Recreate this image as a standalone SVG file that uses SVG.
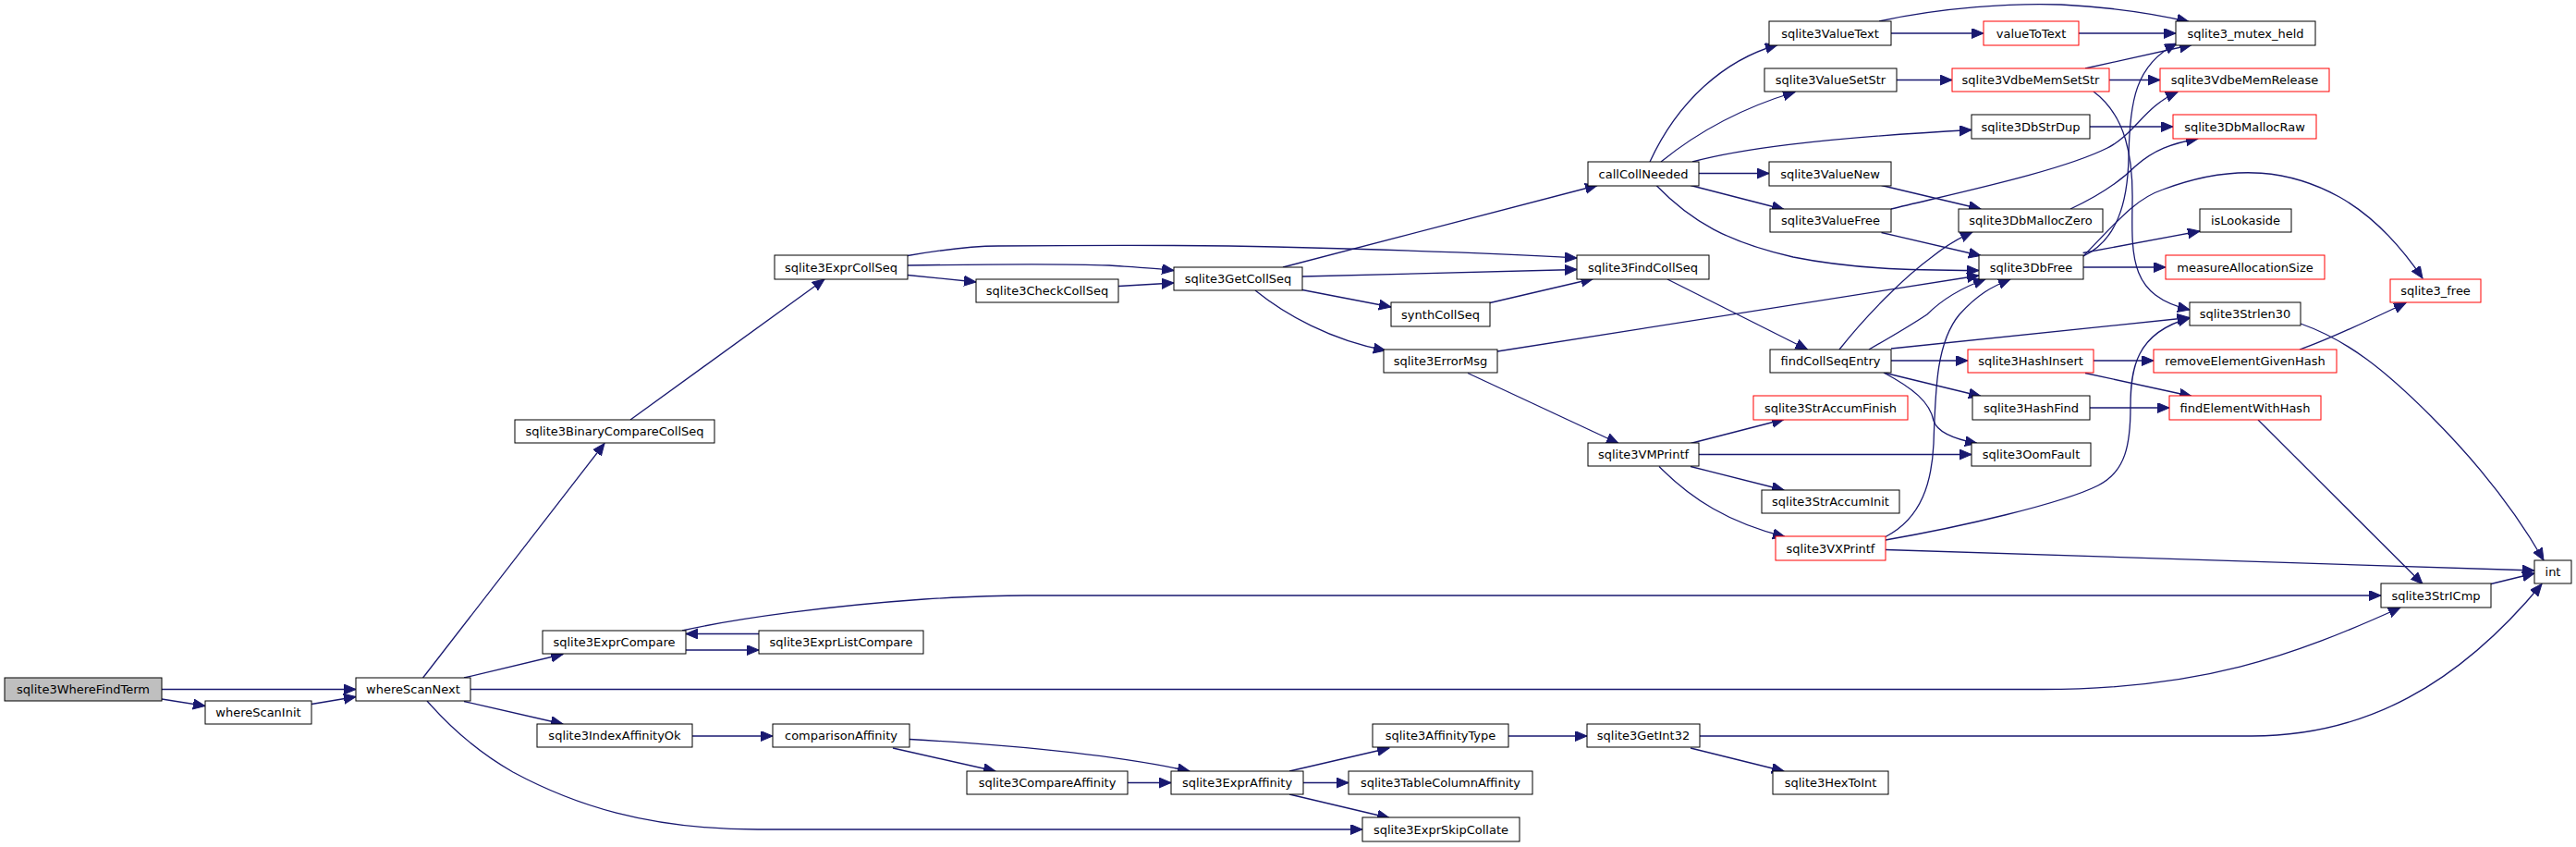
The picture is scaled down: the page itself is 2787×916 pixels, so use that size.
<svg xmlns="http://www.w3.org/2000/svg" width="2787" height="916" viewBox="0 0 2787 916">
<style>
.n rect{fill:#fff;stroke:#000;stroke-width:1}
.n.r rect{stroke:#ff0000}
.n.m rect{fill:#bfbfbf}
.n text{font-family:"DejaVu Sans",sans-serif;font-size:13px;text-anchor:middle;fill:#000}
.e path{fill:none;stroke:#191970;stroke-width:1.3;marker-end:url(#a)}
</style>
<defs>
<marker id="a" markerUnits="userSpaceOnUse" markerWidth="14" markerHeight="12" refX="13" refY="5.5" orient="auto" viewBox="0 0 14 12">
<path d="M0,0 L13,5.5 L0,11 z" fill="#191970" stroke="#191970" stroke-width="1"/>
</marker>
</defs>
<rect width="2787" height="916" fill="#fff"/>
<g id="edges" class="e">
<path d="M175,745.5 L385,745.5"/>
<path d="M175,756 L222,763.5"/>
<path d="M337,761.5 L385,753.5"/>
<path d="M457.6,733 L654,479.5"/>
<path d="M502,733 L609,707.5"/>
<path d="M509,745.5 L2210,745.5 C2380,745.5 2480,710 2597,657"/>
<path d="M502,758.5 L609,783"/>
<path d="M462,758 C490,790 520,815 555,835 C620,870 700,897 820,897 L1474,897"/>
<path d="M682,454 L892,302"/>
<path d="M982,276.5 C1020,270 1050,266 1080,266 C1200,265 1300,265 1380,267 C1500,270 1620,274 1706,279"/>
<path d="M982,287 C1050,286 1150,285 1200,287 C1230,289 1250,290 1270,292.5"/>
<path d="M982,297.5 L1056,305"/>
<path d="M1210,309.5 L1270,306"/>
<path d="M1388,289 L1728,200.5"/>
<path d="M1409,299 L1706,291.5"/>
<path d="M1409,313.5 L1505,332"/>
<path d="M1358,314 C1390,340 1440,368 1499,379"/>
<path d="M1612,327.5 L1723.5,301.5"/>
<path d="M1620,380 L2141,298"/>
<path d="M1785,175 C1815,110 1865,65 1923,48.5"/>
<path d="M1797,175 C1840,140 1890,115 1942,99.5"/>
<path d="M1831,175 C1880,162 1960,150 2133,140.5"/>
<path d="M1838,187.5 L1914,187.5"/>
<path d="M1829,200.5 L1930,226.5"/>
<path d="M1792,200.5 C1830,240 1870,262 1940,278 C2000,290 2060,292.5 2141,292.5"/>
<path d="M1804,302 L1955.5,378"/>
<path d="M2033,23 C2100,8 2180,3 2230,5 C2290,8 2340,17 2368,23.5"/>
<path d="M2046,36 L2146,36"/>
<path d="M2249,36 L2354,36"/>
<path d="M2052,86.5 L2112,86.5"/>
<path d="M2256,74 L2371,48.5"/>
<path d="M2282,86.5 L2337,86.5"/>
<path d="M2265,99 C2300,125 2308,170 2307,220 C2306,280 2305,320 2369,335"/>
<path d="M2261,137 L2351,137"/>
<path d="M2035.5,200.5 L2143,226"/>
<path d="M2035.5,251.5 L2143,276.5"/>
<path d="M2046,226 C2120,208 2230,185 2280,160 C2310,145 2320,115 2356,99.5"/>
<path d="M2240,226 C2270,212 2295,195 2310,180 C2330,162 2350,155 2378,150"/>
<path d="M2254,277 C2290,260 2302,220 2303,170 C2304,110 2310,70 2355,47"/>
<path d="M2253.6,273.5 L2380,250"/>
<path d="M2254,289 L2343,289"/>
<path d="M2254,277 C2290,240 2310,215 2340,205 C2420,175 2480,185 2531,213 C2570,235 2600,270 2621,301"/>
<path d="M1990,378 C2020,340 2060,300 2090,278 C2105,266 2118,258 2134,251"/>
<path d="M2022,378 C2050,362 2070,350 2085,340 C2100,325 2120,312 2148,302"/>
<path d="M2046,377 L2368.5,343.5"/>
<path d="M2046,390 L2129,390"/>
<path d="M2038,403 L2143,428.5"/>
<path d="M2038,403 C2070,420 2088,435 2092,455 C2096,468 2115,475 2139,479.5"/>
<path d="M1588,403.5 L1751,479.5"/>
<path d="M1829,479.5 L1930,453.5"/>
<path d="M1838,491.5 L2133,491.5"/>
<path d="M1829,504.5 L1930,530"/>
<path d="M1795,504.5 C1830,540 1870,565 1931,580.5"/>
<path d="M2040,580.5 C2080,560 2090,520 2092,480 C2094,420 2095,370 2120,340 C2140,318 2155,310 2175,302"/>
<path d="M2040,584 C2120,570 2230,545 2270,525 C2300,510 2305,480 2305,440 C2305,400 2310,360 2369,344"/>
<path d="M2040,594.5 L2742,617"/>
<path d="M2265,390 L2330,390"/>
<path d="M2256,403.5 L2371,428.5"/>
<path d="M2261,441 L2347,441"/>
<path d="M2488,378 C2520,367 2560,348 2603,327.5"/>
<path d="M2443,454 L2621,631.5"/>
<path d="M2489,350 C2540,368 2580,400 2630,450 C2680,500 2720,550 2752,606"/>
<path d="M2695,631.5 L2742,620"/>
<path d="M1839,796 L2436,796 C2560,796 2660,740 2750,631.5"/>
<path d="M1632,796 L1717,796"/>
<path d="M1829,809 L1930,834"/>
<path d="M1395,834 L1503,809"/>
<path d="M1410,846.5 L1459,846.5"/>
<path d="M1395,859 L1503,884.5"/>
<path d="M749,796 L836,796"/>
<path d="M966,809 L1077,834"/>
<path d="M984,799.5 C1080,805 1200,815 1287,834"/>
<path d="M1220,846.5 L1267,846.5"/>
<path d="M742,703 L821,703"/>
<path d="M821,685.5 L742,685.5"/>
<path d="M738,682 C800,668 900,655 1000,648 C1050,645 1080,644 1110,644 L2576,644"/>
</g>
<g id="n1" class="n m"><rect x="5" y="733" width="170" height="25"/><text x="90" y="750">sqlite3WhereFindTerm</text></g>
<g id="n2" class="n"><rect x="222" y="758" width="115" height="25"/><text x="279.5" y="775">whereScanInit</text></g>
<g id="n3" class="n"><rect x="385" y="733" width="124" height="25"/><text x="447" y="750">whereScanNext</text></g>
<g id="n4" class="n"><rect x="557" y="454" width="216" height="25"/><text x="665" y="471">sqlite3BinaryCompareCollSeq</text></g>
<g id="n5" class="n"><rect x="587" y="682" width="155" height="25"/><text x="664.5" y="699">sqlite3ExprCompare</text></g>
<g id="n6" class="n"><rect x="581" y="783" width="168" height="25"/><text x="665" y="800">sqlite3IndexAffinityOk</text></g>
<g id="n7" class="n"><rect x="821" y="682" width="178" height="25"/><text x="910" y="699">sqlite3ExprListCompare</text></g>
<g id="n8" class="n"><rect x="836" y="783" width="148" height="25"/><text x="910" y="800">comparisonAffinity</text></g>
<g id="n9" class="n"><rect x="1046" y="834" width="174" height="25"/><text x="1133" y="851">sqlite3CompareAffinity</text></g>
<g id="n10" class="n"><rect x="1267" y="834" width="143" height="25"/><text x="1338.5" y="851">sqlite3ExprAffinity</text></g>
<g id="n11" class="n"><rect x="838" y="276" width="144" height="26"/><text x="910" y="293.5">sqlite3ExprCollSeq</text></g>
<g id="n12" class="n"><rect x="1056" y="302" width="154" height="25"/><text x="1133" y="319">sqlite3CheckCollSeq</text></g>
<g id="n13" class="n"><rect x="1270" y="289" width="139" height="25"/><text x="1339.5" y="306">sqlite3GetCollSeq</text></g>
<g id="n14" class="n"><rect x="1718" y="175" width="120" height="26"/><text x="1778" y="192.5">callCollNeeded</text></g>
<g id="n15" class="n"><rect x="1914" y="23" width="132" height="26"/><text x="1980" y="40.5">sqlite3ValueText</text></g>
<g id="n16" class="n"><rect x="1909" y="74" width="143" height="25"/><text x="1980.5" y="91">sqlite3ValueSetStr</text></g>
<g id="n17" class="n"><rect x="1914" y="175" width="132" height="26"/><text x="1980" y="192.5">sqlite3ValueNew</text></g>
<g id="n18" class="n"><rect x="1915" y="226" width="131" height="25"/><text x="1980.5" y="243">sqlite3ValueFree</text></g>
<g id="n19" class="n"><rect x="1706" y="276" width="143" height="26"/><text x="1777.5" y="293.5">sqlite3FindCollSeq</text></g>
<g id="n20" class="n"><rect x="1505" y="327" width="107" height="26"/><text x="1558.5" y="344.5">synthCollSeq</text></g>
<g id="n21" class="n"><rect x="1497" y="378" width="123" height="25"/><text x="1558.5" y="395">sqlite3ErrorMsg</text></g>
<g id="n22" class="n"><rect x="1915" y="378" width="131" height="25"/><text x="1980.5" y="395">findCollSeqEntry</text></g>
<g id="n23" class="n r"><rect x="1897" y="428" width="167" height="26"/><text x="1980.5" y="445.5">sqlite3StrAccumFinish</text></g>
<g id="n24" class="n"><rect x="1718" y="479" width="120" height="25"/><text x="1778" y="496">sqlite3VMPrintf</text></g>
<g id="n25" class="n"><rect x="1906" y="530" width="149" height="25"/><text x="1980.5" y="547">sqlite3StrAccumInit</text></g>
<g id="n26" class="n r"><rect x="1921" y="580" width="119" height="26"/><text x="1980.5" y="597.5">sqlite3VXPrintf</text></g>
<g id="n27" class="n"><rect x="1485" y="783" width="147" height="25"/><text x="1558.5" y="800">sqlite3AffinityType</text></g>
<g id="n28" class="n"><rect x="1717" y="783" width="122" height="25"/><text x="1778" y="800">sqlite3GetInt32</text></g>
<g id="n29" class="n"><rect x="1459" y="834" width="199" height="25"/><text x="1558.5" y="851">sqlite3TableColumnAffinity</text></g>
<g id="n30" class="n"><rect x="1918" y="834" width="125" height="25"/><text x="1980.5" y="851">sqlite3HexToInt</text></g>
<g id="n31" class="n"><rect x="1474" y="884" width="170" height="26"/><text x="1559" y="901.5">sqlite3ExprSkipCollate</text></g>
<g id="n32" class="n r"><rect x="2146" y="23" width="103" height="26"/><text x="2197.5" y="40.5">valueToText</text></g>
<g id="n33" class="n"><rect x="2354" y="23" width="151" height="26"/><text x="2429.5" y="40.5">sqlite3_mutex_held</text></g>
<g id="n34" class="n r"><rect x="2112" y="74" width="170" height="25"/><text x="2197" y="91">sqlite3VdbeMemSetStr</text></g>
<g id="n35" class="n r"><rect x="2337" y="74" width="183" height="25"/><text x="2428.5" y="91">sqlite3VdbeMemRelease</text></g>
<g id="n36" class="n"><rect x="2133" y="124" width="128" height="26"/><text x="2197" y="141.5">sqlite3DbStrDup</text></g>
<g id="n37" class="n r"><rect x="2351" y="124" width="155" height="26"/><text x="2428.5" y="141.5">sqlite3DbMallocRaw</text></g>
<g id="n38" class="n"><rect x="2119" y="226" width="156" height="25"/><text x="2197" y="243">sqlite3DbMallocZero</text></g>
<g id="n39" class="n"><rect x="2380" y="226" width="99" height="25"/><text x="2429.5" y="243">isLookaside</text></g>
<g id="n40" class="n"><rect x="2141" y="276" width="113" height="26"/><text x="2197.5" y="293.5">sqlite3DbFree</text></g>
<g id="n41" class="n r"><rect x="2343" y="276" width="172" height="26"/><text x="2429" y="293.5">measureAllocationSize</text></g>
<g id="n42" class="n r"><rect x="2586" y="302" width="98" height="25"/><text x="2635" y="319">sqlite3_free</text></g>
<g id="n43" class="n"><rect x="2369" y="327" width="120" height="25"/><text x="2429" y="344">sqlite3Strlen30</text></g>
<g id="n44" class="n r"><rect x="2129" y="378" width="136" height="25"/><text x="2197" y="395">sqlite3HashInsert</text></g>
<g id="n45" class="n r"><rect x="2330" y="378" width="198" height="25"/><text x="2429" y="395">removeElementGivenHash</text></g>
<g id="n46" class="n"><rect x="2134" y="428" width="127" height="26"/><text x="2197.5" y="445.5">sqlite3HashFind</text></g>
<g id="n47" class="n r"><rect x="2347" y="428" width="164" height="26"/><text x="2429" y="445.5">findElementWithHash</text></g>
<g id="n48" class="n"><rect x="2133" y="479" width="129" height="25"/><text x="2197.5" y="496">sqlite3OomFault</text></g>
<g id="n49" class="n"><rect x="2576" y="631" width="119" height="26"/><text x="2635.5" y="648.5">sqlite3StrICmp</text></g>
<g id="n50" class="n"><rect x="2742" y="606" width="40" height="25"/><text x="2762" y="623">int</text></g>
</svg>
